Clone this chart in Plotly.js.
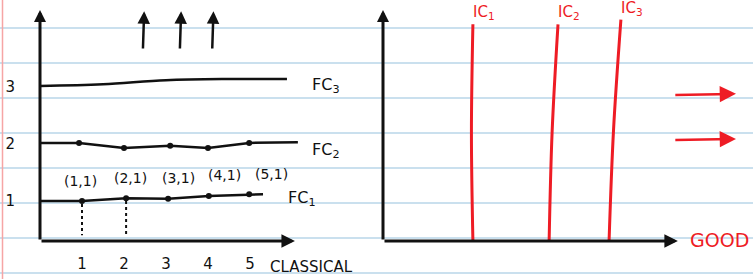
<!DOCTYPE html>
<html>
<head>
<meta charset="utf-8">
<script src="https://cdn.plot.ly/plotly-3.0.1.min.js"></script>
<style>html,body{margin:0;padding:0;background:#fff;}</style>
</head>
<body>
<div id="chart" style="width:753px;height:279px;"></div>
<script>
// ---- data (left panel: classical indifference "curves") ----
const xTicks = [1, 2, 3, 4, 5];
const xTickLabels = ['1', '2', '3', '4', '5'];
const yTicks = [1, 2, 3];
const yTickLabels = ['1', '2', '3'];

const fc1X = [0, 1.0, 2.05, 3.05, 4.02, 4.98, 5.31];
const fc1Y = [1.0, 1.0, 1.05, 1.04, 1.09, 1.12, 1.12];
const fc2X = [-0.1, 0.93, 2.0, 3.1, 4.0, 4.98, 6.14];
const fc2Y = [2.02, 2.02, 1.93, 1.97, 1.93, 2.02, 2.03];
const fc3X = [0, 1.5, 3.0, 4.5, 5.88];
const fc3Y = [3.02, 3.05, 3.12, 3.14, 3.14];
const pointLabels = ['(1,1)', '(2,1)', '(3,1)', '(4,1)', '(5,1)'];
const curveNames = ['FC<sub>1</sub>', 'FC<sub>2</sub>', 'FC<sub>3</sub>'];
const dropX = [1.0, 2.05];            // dotted drops from (1,1) and (2,1)
const upArrowX = [2.45, 3.33, 4.1];   // "increasing" arrows

// ---- data (right panel: good-axis lines) ----
const icTopX = [2.43, 4.73, 6.43];
const icBottomX = [2.43, 4.49, 6.11];
const icTopY = [4.1, 4.1, 4.18];
const icNames = ['IC<sub>1</sub>', 'IC<sub>2</sub>', 'IC<sub>3</sub>'];
const goodArrowY = [2.86, 2.07];
const axisLabels = {left: 'CLASSICAL', right: 'GOOD'};

const W = 753, H = 279;
const black = '#111', red = '#ee1c25';
const font = 'DejaVu Sans, sans-serif';
const yMin = 0.3, yMax = 4.526;

const traces = [];
function line(xs, ys, ax, lineStyle) {
  traces.push({x: xs, y: ys, mode: 'lines', line: lineStyle, xaxis: ax[0], yaxis: ax[1], hoverinfo: 'skip'});
}
const L = ['x', 'y'], R = ['x2', 'y2'];

// FC lines
[[fc1X, fc1Y], [fc2X, fc2Y]].forEach(([xs, ys]) => {
  line(xs, ys, L, {color: black, width: 2.5});
  traces.push({x: xs.slice(1, 6), y: ys.slice(1, 6), mode: 'markers', marker: {color: black, size: 6}, xaxis: 'x', yaxis: 'y', hoverinfo: 'skip'});
});
line(fc3X, fc3Y, L, {color: black, width: 2.5, shape: 'spline'});
// dotted drops
dropX.forEach((dx, i) => {
  line([dx, dx], [fc1Y[i + 1] - 0.05, yMin + 0.1], L, {color: black, width: 2, dash: 'dot'});
});
// IC lines
icTopX.forEach((tx, i) => {
  line([tx, (tx + icBottomX[i]) / 2 - 0.04, icBottomX[i]], [icTopY[i], (icTopY[i] + yMin) / 2, yMin], R,
    {color: red, width: 3, shape: 'spline'});
});

const annotations = [];
function arrow(ax, x0, y0, x1, y1, color, width, size) {
  annotations.push({xref: ax[0], yref: ax[1], axref: ax[0], ayref: ax[1], x: x1, y: y1, ax: x0, ay: y0,
    showarrow: true, arrowhead: 2, arrowsize: size, arrowwidth: width, arrowcolor: color, text: '', standoff: 0, startstandoff: 0});
}
// axes with arrows
arrow(L, 0, yMin, 0, 4.35, black, 3, 0.8);
arrow(L, 0, yMin, 6.07, yMin, black, 3, 0.9);
arrow(R, 0, yMin, 0, 4.35, black, 3, 0.8);
arrow(R, 0, yMin, 7.97, yMin, black, 3, 0.9);
// up arrows
upArrowX.forEach(ux => arrow(L, ux, 3.65, ux + 0.03, 4.33, black, 2.5, 1));
// good arrows
goodArrowY.forEach(gy => arrow(R, 7.86, gy, 9.54, gy + 0.02, red, 2.5, 1.3));

// curve labels
[[5.86, fc1Y[6] - 0.08], [6.43, fc2Y[6] - 0.15], [6.43, fc3Y[4] - 0.12]].forEach(([lx, ly], i) => {
  annotations.push({xref: 'x', yref: 'y', x: lx, y: ly, text: curveNames[i], showarrow: false, xanchor: 'left',
    font: {family: font, size: 16, color: black}});
});
// point labels
pointLabels.forEach((t, i) => {
  annotations.push({xref: 'x', yref: 'y', x: fc1X[i + 1], y: fc1Y[i + 1] + 0.36, text: t, showarrow: false,
    xshift: i * 6 - 2, font: {family: font, size: 14, color: black}});
});
// IC labels
icTopX.forEach((tx, i) => {
  annotations.push({xref: 'x2', yref: 'y2', x: tx, y: icTopY[i] + 0.2, text: icNames[i], showarrow: false, xanchor: 'left', xshift: -2,
    font: {family: font, size: 15, color: red}});
});
// axis names
annotations.push({xref: 'paper', yref: 'paper', x: 268 / W, y: 1 - 267 / H, xanchor: 'left', yanchor: 'middle', text: axisLabels.left, showarrow: false,
  font: {family: font, size: 15, color: black}});
annotations.push({xref: 'paper', yref: 'paper', x: 688 / W, y: 1 - 240 / H, xanchor: 'left', yanchor: 'middle', text: axisLabels.right, showarrow: false,
  font: {family: font, size: 19, color: red}});

// notebook paper
const shapes = [];
for (let py = 28; py < H; py += 35) {
  shapes.push({type: 'line', xref: 'paper', yref: 'paper', x0: 0, x1: 1, y0: 1 - py / H, y1: 1 - py / H, layer: 'below', line: {color: '#b8d6e8', width: 1.5}});
}
shapes.push({type: 'line', xref: 'paper', yref: 'paper', x0: 2.5 / W, x1: 2.5 / W, y0: 0, y1: 1, layer: 'below', line: {color: '#f6a5a5', width: 1.5}});

const hidden = {showgrid: false, zeroline: false, showline: false, showticklabels: false, ticks: ''};
const layout = {
  width: W, height: H, margin: {l: 0, r: 0, t: 0, b: 0}, showlegend: false,
  paper_bgcolor: '#fff', plot_bgcolor: 'rgba(0,0,0,0)',
  xaxis: {domain: [40 / W, 345 / W], range: [0, 305 / 42], showgrid: false, zeroline: false, showline: false, ticks: '',
    tickvals: xTicks, ticktext: xTickLabels, tickfont: {family: font, size: 15, color: black}, ticklabelstandoff: 12, anchor: 'y'},
  yaxis: {domain: [1 - 241 / H, 1], range: [yMin, yMax], showgrid: false, zeroline: false, showline: false, ticks: '',
    tickvals: yTicks, ticktext: yTickLabels, tickfont: {family: font, size: 15, color: black}, ticklabelstandoff: 24, anchor: 'x'},
  xaxis2: Object.assign({domain: [383 / W, 1], range: [0, 370 / 37], anchor: 'y2'}, hidden),
  yaxis2: Object.assign({domain: [1 - 241 / H, 1], range: [yMin, yMax], anchor: 'x2'}, hidden),
  annotations: annotations, shapes: shapes
};
Plotly.newPlot('chart', traces, layout, {staticPlot: true, displayModeBar: false});
</script>
</body>
</html>
